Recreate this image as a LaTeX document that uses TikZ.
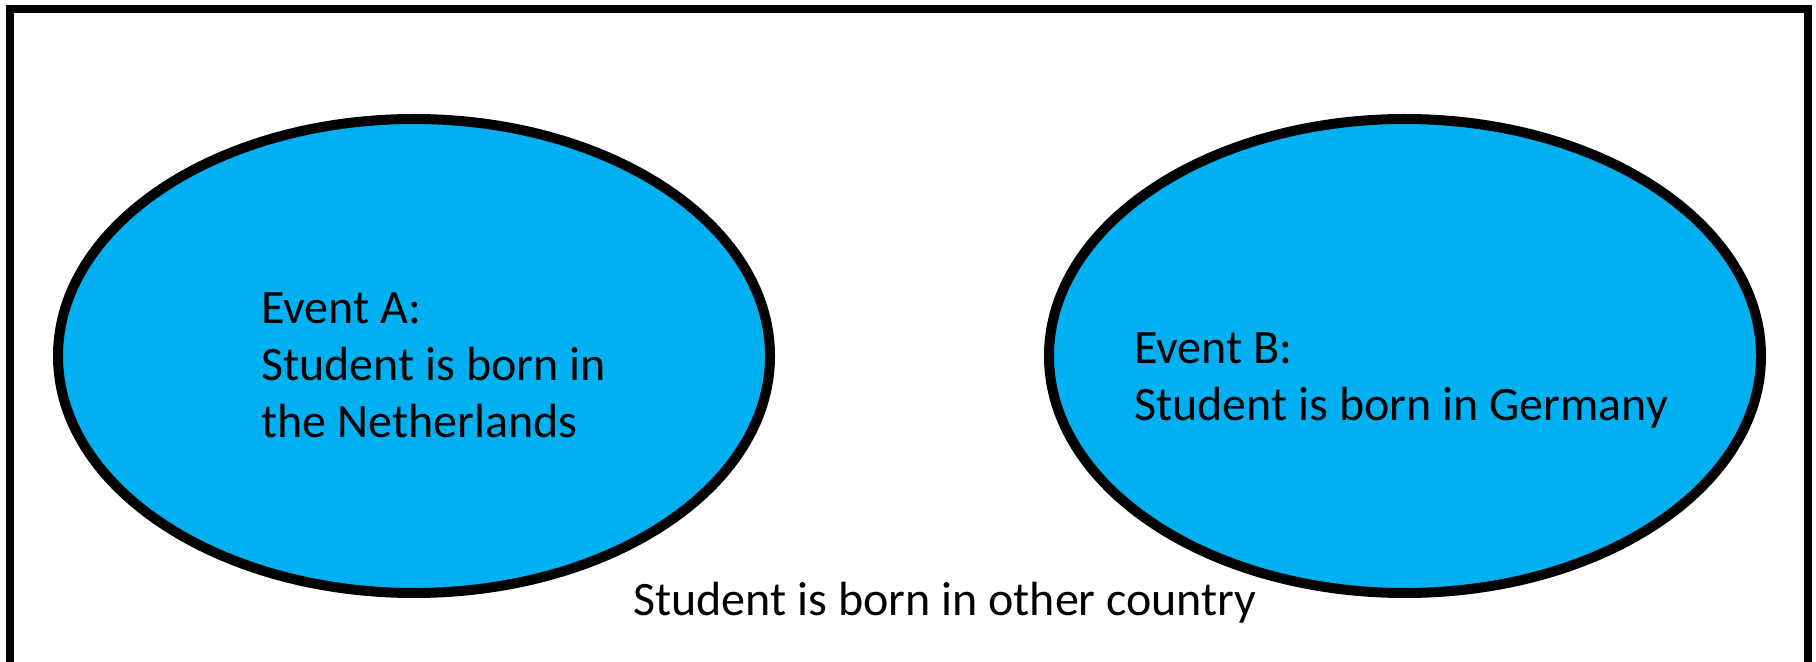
\documentclass[tikz,border=0pt]{standalone}
\usepackage{fontspec}
\setmainfont{Carlito}
\definecolor{eventblue}{RGB}{0,176,240}
\begin{document}
\begin{tikzpicture}[x=0.5pt,y=-0.5pt,
  eventset/.style={draw=black,line width=5pt,fill=eventblue},
  label/.style={inner sep=0pt,align=left,font=\fontsize{24pt}{28.5pt}\selectfont},
]
\useasboundingbox (0,0) rectangle (1816,662);
% sample space frame
\draw[line width=4pt] (10,9) rectangle (1808,666);
% the two events
\draw[eventset] (414,356) ellipse [x radius=356, y radius=237];
\draw[eventset] (1405,356) ellipse [x radius=356, y radius=237];
% labels
\node[label,anchor=north west] (evA) at (261,292) {Event A:\\Student is born in\\the Netherlands};
\node[label,anchor=north west] (evB) at (1134,332) {Event B:\\Student is born in Germany};
\node[label,anchor=base west] (other) at (633,615) {Student is born in other country};
\end{tikzpicture}
\end{document}
